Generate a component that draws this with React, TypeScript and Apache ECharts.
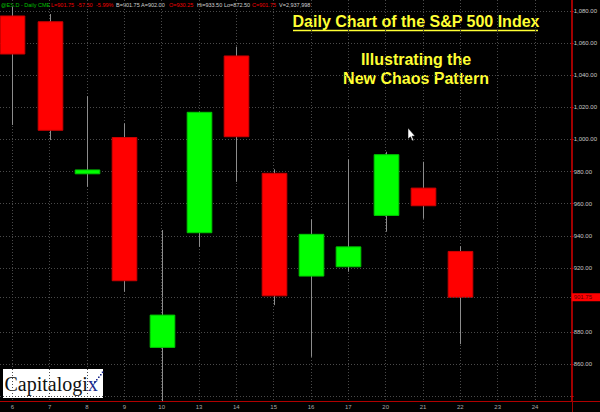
import React, { useEffect, useRef } from "react";
import * as echarts from "echarts";

// Trading days shown on the x axis
const days = ["6", "7", "8", "9", "10", "13", "14", "15", "16", "17", "20", "21", "22", "23", "24"];
// Daily OHLC of the S&P 500 (one entry per traded day, left to right)
const opens = [1076.9, 1073.3, 978.6, 1001.2, 870.5, 941.9, 1052.0, 978.9, 914.9, 920.7, 952.7, 969.7, 930.25];
const closes = [1053.2, 1005.7, 981.0, 912.0, 890.6, 1016.9, 1001.7, 902.6, 940.9, 933.1, 990.5, 958.7, 901.75];
const lows = [1009.0, 999.6, 970.5, 905.1, 837.0, 933.1, 973.6, 896.8, 864.6, 917.6, 942.5, 950.6, 872.5];
const highs = [1082.5, 1078.1, 1027.0, 1010.0, 943.6, 1017.2, 1057.8, 981.4, 950.2, 987.6, 992.3, 986.1, 933.5];
// Price axis levels (900 is covered by the last-price flag)
const yTickValues = [840, 860, 880, 920, 940, 960, 980, 1000, 1020, 1040, 1060, 1080];
const yLabelValues = [860, 880, 920, 940, 960, 980, 1000, 1020, 1040, 1060, 1080];
const lastPrice = 901.75;
// Header quote strip
const headerItems = [
  { text: "@ES.D - Daily CME", kind: "sym" },
  { text: "L=901.75", kind: "dn" },
  { text: "-57.50", kind: "dn" },
  { text: "-5.99%", kind: "dn" },
  { text: "B=901.75", kind: "nt" },
  { text: "A=902.00", kind: "nt" },
  { text: "O=930.25", kind: "dn" },
  { text: "Hi=933.50", kind: "nt" },
  { text: "Lo=872.50", kind: "nt" },
  { text: "C=901.75", kind: "dn" },
  { text: "V=2,937,998", kind: "nt" },
];
const headerX = [1, 51, 77, 96, 116, 141, 169, 197, 224, 252, 279];

export default function App() {
  const ref = useRef<HTMLDivElement>(null);

  useEffect(() => {
    document.body.style.margin = "0";
    if (!ref.current) return;
    const chart = echarts.init(ref.current, undefined, { renderer: "svg" });

    const xIdx = days.map((_, i) => i);
    const candleData = opens.map((o, i) => [i, o, closes[i], lows[i], highs[i]]);
    const gridLine = { show: true, lineStyle: { color: "#4a4a4a", width: 1, type: [1, 2] as any } };
    const headerColors: Record<string, string> = { sym: "#00c000", dn: "#f00000", nt: "#d0d0d0" };

    const fmtPrice = (v: number) =>
      Number(v).toLocaleString("en-US", { minimumFractionDigits: 2, maximumFractionDigits: 2 });

    const option: any = {
      animation: false,
      backgroundColor: "#000000",
      grid: { left: 0, right: 28, top: 0, bottom: 11, containLabel: false },
      xAxis: {
        type: "value",
        min: -0.33,
        max: 14.98,
        axisLine: { show: true, onZero: false, lineStyle: { color: "#b00000", width: 1 } },
        axisTick: { show: false, customValues: xIdx },
        axisLabel: {
          customValues: xIdx,
          formatter: (v: number) => days[Math.round(v)] ?? "",
          color: "#a8a8a8",
          fontSize: 6,
          fontFamily: "Liberation Sans, Arial, sans-serif",
          margin: 3,
        },
        splitLine: gridLine,
      },
      yAxis: {
        type: "value",
        position: "right",
        min: 837.1,
        max: 1086.85,
        axisLine: { show: true, onZero: false, lineStyle: { color: "#a00000", width: 1 } },
        axisTick: { show: true, length: 2, customValues: yTickValues, lineStyle: { color: "#d00000" } },
        axisLabel: {
          customValues: yLabelValues,
          formatter: (v: number) => fmtPrice(v),
          color: "#c8c8c8",
          fontSize: 6,
          fontFamily: "Liberation Sans, Arial, sans-serif",
          margin: 2,
        },
        splitLine: gridLine,
      },
      series: [
        {
          type: "custom",
          data: candleData,
          encode: { x: 0, y: [1, 2, 3, 4] },
          renderItem: (params: any, api: any) => {
            const i = api.value(0);
            const o = api.value(1);
            const c = api.value(2);
            const l = api.value(3);
            const h = api.value(4);
            const pO = api.coord([i, o]);
            const pC = api.coord([i, c]);
            const pL = api.coord([i, l]);
            const pH = api.coord([i, h]);
            const w = api.size([1, 0])[0] * 0.66;
            const x = Math.round(pO[0]) + 0.5;
            const up = c >= o;
            const top = Math.min(pO[1], pC[1]);
            const bot = Math.max(pO[1], pC[1]);
            return {
              type: "group",
              children: [
                {
                  type: "line",
                  shape: { x1: x, y1: pH[1], x2: x, y2: pL[1] },
                  style: { stroke: "#8c8c8c", lineWidth: 1 },
                },
                {
                  type: "rect",
                  shape: { x: x - w / 2, y: top, width: w, height: Math.max(bot - top, 3) },
                  style: {
                    fill: up ? "#00ff00" : "#ff0000",
                    stroke: up ? "#00c800" : "#cc0000",
                    lineWidth: 1,
                  },
                },
              ],
            };
          },
          markLine: {
            silent: true,
            symbol: ["none", "none"],
            lineStyle: { color: "#4a4a4a", width: 1, type: [1, 2] },
            label: {
              show: true,
              position: "end",
              distance: 0,
              formatter: () => fmtPrice(lastPrice),
              backgroundColor: "#ff0000",
              color: "#5a0000",
              fontSize: 6,
              fontFamily: "Liberation Sans, Arial, sans-serif",
              padding: [1, 12, 1, 2],
            },
            data: [{ yAxis: lastPrice }],
          },
        },
      ],
      graphic: [
        // axis line extensions
        { type: "line", shape: { x1: 572, y1: 401.5, x2: 600, y2: 401.5 }, style: { stroke: "#b00000", lineWidth: 1 } },
        { type: "line", shape: { x1: 572.5, y1: 0, x2: 572.5, y2: 412 }, style: { stroke: "#a00000", lineWidth: 1 } },
        // header quote strip
        ...headerItems.map((it, k) => ({
          type: "text",
          x: headerX[k],
          y: 4.5,
          style: {
            text: it.text,
            fill: headerColors[it.kind],
            fontSize: 5.5,
            fontFamily: "Liberation Sans, Arial, sans-serif",
            verticalAlign: "middle",
            align: "left",
          },
        })),
        // titles
        {
          type: "text",
          x: 416,
          y: 21.5,
          style: {
            text: "Daily Chart of the S&P 500 Index",
            fill: "#ffff33",
            fontSize: 16,
            fontWeight: "bold",
            fontFamily: "Liberation Sans, Arial, sans-serif",
            align: "center",
            verticalAlign: "middle",
          },
        },
        { type: "line", shape: { x1: 293, y1: 30.5, x2: 538, y2: 30.5 }, style: { stroke: "#ffff33", lineWidth: 1.6 } },
        {
          type: "text",
          x: 416,
          y: 59,
          style: {
            text: "Illustrating the",
            fill: "#ffff33",
            fontSize: 16,
            fontWeight: "bold",
            fontFamily: "Liberation Sans, Arial, sans-serif",
            align: "center",
            verticalAlign: "middle",
          },
        },
        {
          type: "text",
          x: 416,
          y: 78.5,
          style: {
            text: "New Chaos Pattern",
            fill: "#ffff33",
            fontSize: 16,
            fontWeight: "bold",
            fontFamily: "Liberation Sans, Arial, sans-serif",
            align: "center",
            verticalAlign: "middle",
          },
        },
        // mouse pointer
        {
          type: "polygon",
          shape: {
            points: [
              [408, 128], [408, 139], [410.5, 136.8], [412.3, 140.8], [413.8, 140.2], [412, 136.2], [415, 136],
            ],
          },
          style: { fill: "#ffffff", stroke: "#000000", lineWidth: 0.5 },
        },
        // Capitalogix logo
        { type: "rect", shape: { x: 3, y: 369, width: 100, height: 29 }, style: { fill: "#ffffff" } },
        {
          type: "text",
          x: 4.5,
          y: 384,
          style: {
            text: "{a|Capitalogi}{b|x}",
            verticalAlign: "middle",
            align: "left",
            rich: {
              a: { fill: "#111111", fontSize: 20, fontFamily: "Liberation Serif, Times New Roman, serif" },
              b: { fill: "#1c2a8c", fontSize: 20, fontFamily: "Liberation Serif, Times New Roman, serif" },
            },
          },
        },
        ...[
          [94, 381.5], [96, 379], [98, 376.5], [100, 374], [101.8, 371.5],
        ].map((p) => ({
          type: "rect",
          shape: { x: p[0], y: p[1], width: 1.6, height: 1.6 },
          style: { fill: "#1c2a8c" },
        })),
      ],
    };

    chart.setOption(option);
    return () => chart.dispose();
  }, []);

  return <div ref={ref} style={{ width: 600, height: 412 }} />;
}
